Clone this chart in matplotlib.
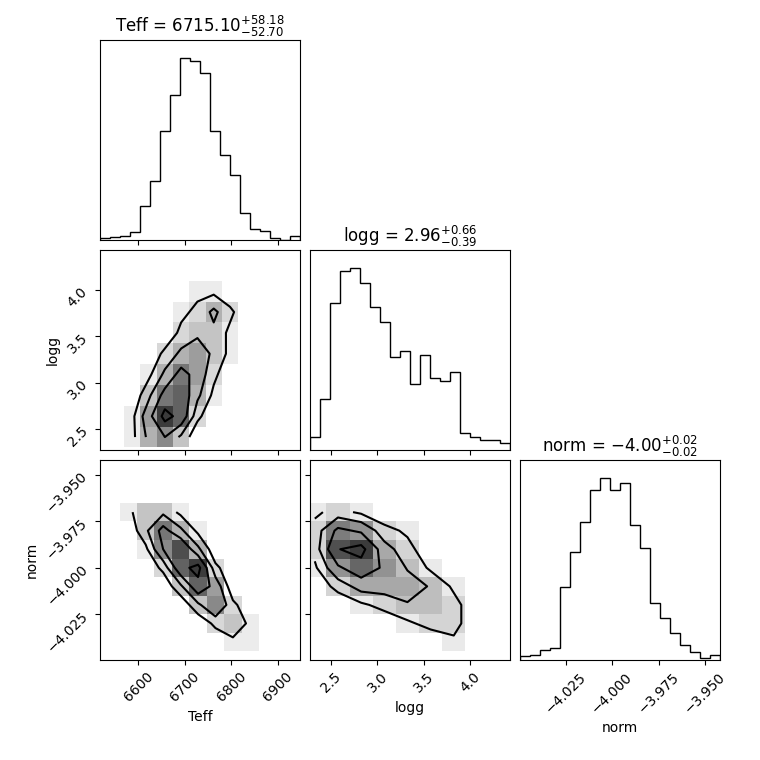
import matplotlib
matplotlib.use("Agg")
import matplotlib.pyplot as plt
import numpy as np

# 1D histogram counts (20 bins each)
teff_range = (6518, 6948)
teff_counts = [2, 3, 4, 8, 34, 59, 109, 145, 182, 179, 167, 109, 85, 65, 27, 11, 9, 2, 0, 4]
logg_range = (2.273, 4.432)
logg_counts = [13, 51, 147, 179, 182, 167, 143, 128, 93, 99, 66, 95, 72, 69, 78, 17, 13, 10, 10, 7]
norm_range = (-4.0497, -3.9419)
norm_counts = [4, 5, 10, 12, 73, 108, 138, 170, 182, 170, 177, 135, 112, 57, 42, 27, 15, 8, 2, 5]

# 2D density grids (rows: low -> high y)
teff_logg_x = (6570, 6850)
teff_logg_y = (2.3, 4.1)
teff_logg = [[1, 4, 6, 3, 0, 0, 0, 0],
             [1, 5, 10, 8, 2, 0, 0, 0],
             [0, 3, 7, 8, 4, 1, 0, 0],
             [0, 1, 4, 7, 5, 2, 0, 0],
             [0, 0, 2, 4, 5, 3, 1, 0],
             [0, 0, 0, 2, 3, 3, 1, 0],
             [0, 0, 0, 1, 2, 4, 2, 0],
             [0, 0, 0, 0, 1, 1, 0, 0]]
teff_norm_x = (6560, 6860)
teff_norm_y = (-4.045, -3.965)
teff_norm = [[0, 0, 0, 0, 0, 0, 1, 1],
             [0, 0, 0, 0, 0, 2, 3, 1],
             [0, 0, 0, 0, 3, 6, 2, 0],
             [0, 0, 0, 3, 8, 5, 0, 0],
             [0, 0, 2, 8, 10, 2, 0, 0],
             [0, 1, 6, 9, 4, 0, 0, 0],
             [0, 3, 7, 4, 1, 0, 0, 0],
             [1, 3, 3, 1, 0, 0, 0, 0]]
logg_norm_x = (2.2, 4.2)
logg_norm_y = (-4.045, -3.965)
logg_norm = [[0, 0, 0, 0, 0, 0, 1, 0],
             [0, 0, 0, 0, 1, 2, 2, 0],
             [0, 0, 1, 2, 3, 3, 2, 0],
             [0, 2, 4, 4, 4, 3, 1, 0],
             [1, 5, 7, 5, 3, 1, 0, 0],
             [2, 8, 9, 4, 2, 0, 0, 0],
             [2, 6, 5, 2, 1, 0, 0, 0],
             [1, 2, 1, 0, 0, 0, 0, 0]]

fig = plt.figure(figsize=(7.6, 7.6), dpi=100)
cols = [100, 310, 520]
rows = [40, 250, 460]


def axes_at(c, r):
    return fig.add_axes([cols[c] / 760, 1 - (rows[r] + 200) / 760, 200 / 760, 200 / 760])


def hist1d(ax, rng, counts, title):
    edges = np.linspace(rng[0], rng[1], len(counts) + 1)
    ax.stairs(counts, edges, color="black", lw=1)
    ax.set_xlim(rng)
    ax.set_ylim(0, max(counts) * 1.1)
    ax.set_yticks([])
    ax.set_title(title, fontsize=12)


def hist2d(ax, xr, yr, grid, xlim, ylim):
    g = np.array(grid, float)
    xe = np.linspace(xr[0], xr[1], g.shape[1] + 1)
    ye = np.linspace(yr[0], yr[1], g.shape[0] + 1)
    m = g.max()
    ax.pcolormesh(xe, ye, np.ma.masked_less(g, 0.5), cmap="gray_r", vmin=0, vmax=m * 1.3)
    xc = 0.5 * (xe[1:] + xe[:-1])
    yc = 0.5 * (ye[1:] + ye[:-1])
    ax.contour(xc, yc, g, levels=[0.15 * m, 0.35 * m, 0.6 * m, 0.9 * m], colors="black", linewidths=1.5)
    ax.set_xlim(xlim)
    ax.set_ylim(ylim)


ax = axes_at(0, 0)
hist1d(ax, teff_range, teff_counts, r"Teff = $6715.10_{-52.70}^{+58.18}$")
ax.set_xticks([6600, 6700, 6800, 6900])
ax.set_xticklabels([])

ax = axes_at(1, 1)
hist1d(ax, logg_range, logg_counts, r"logg = $2.96_{-0.39}^{+0.66}$")
ax.set_xticks([2.5, 3.0, 3.5, 4.0])
ax.set_xticklabels([])

ax = axes_at(2, 2)
hist1d(ax, norm_range, norm_counts, r"norm = $-4.00_{-0.02}^{+0.02}$")
ax.set_xticks([-4.025, -4.0, -3.975, -3.95])
ax.set_xticklabels(["−4.025", "−4.000", "−3.975", "−3.950"], rotation=45)
ax.set_xlabel("norm")

ax = axes_at(0, 1)
hist2d(ax, teff_logg_x, teff_logg_y, teff_logg, teff_range, logg_range)
ax.set_xticks([6600, 6700, 6800, 6900])
ax.set_xticklabels([])
ax.set_yticks([2.5, 3.0, 3.5, 4.0])
ax.set_yticklabels(["2.5", "3.0", "3.5", "4.0"], rotation=45)
ax.set_ylabel("logg")

ax = axes_at(0, 2)
hist2d(ax, teff_norm_x, teff_norm_y, teff_norm, teff_range, norm_range)
ax.set_xticks([6600, 6700, 6800, 6900])
ax.set_xticklabels(["6600", "6700", "6800", "6900"], rotation=45)
ax.set_yticks([-4.025, -4.0, -3.975, -3.95])
ax.set_yticklabels(["−4.025", "−4.000", "−3.975", "−3.950"], rotation=45)
ax.set_xlabel("Teff")
ax.set_ylabel("norm")

ax = axes_at(1, 2)
hist2d(ax, logg_norm_x, logg_norm_y, logg_norm, logg_range, norm_range)
ax.set_xticks([2.5, 3.0, 3.5, 4.0])
ax.set_xticklabels(["2.5", "3.0", "3.5", "4.0"], rotation=45)
ax.set_yticks([-4.025, -4.0, -3.975, -3.95])
ax.set_yticklabels([])
ax.set_xlabel("logg")

fig.savefig("out.png", dpi=100)
